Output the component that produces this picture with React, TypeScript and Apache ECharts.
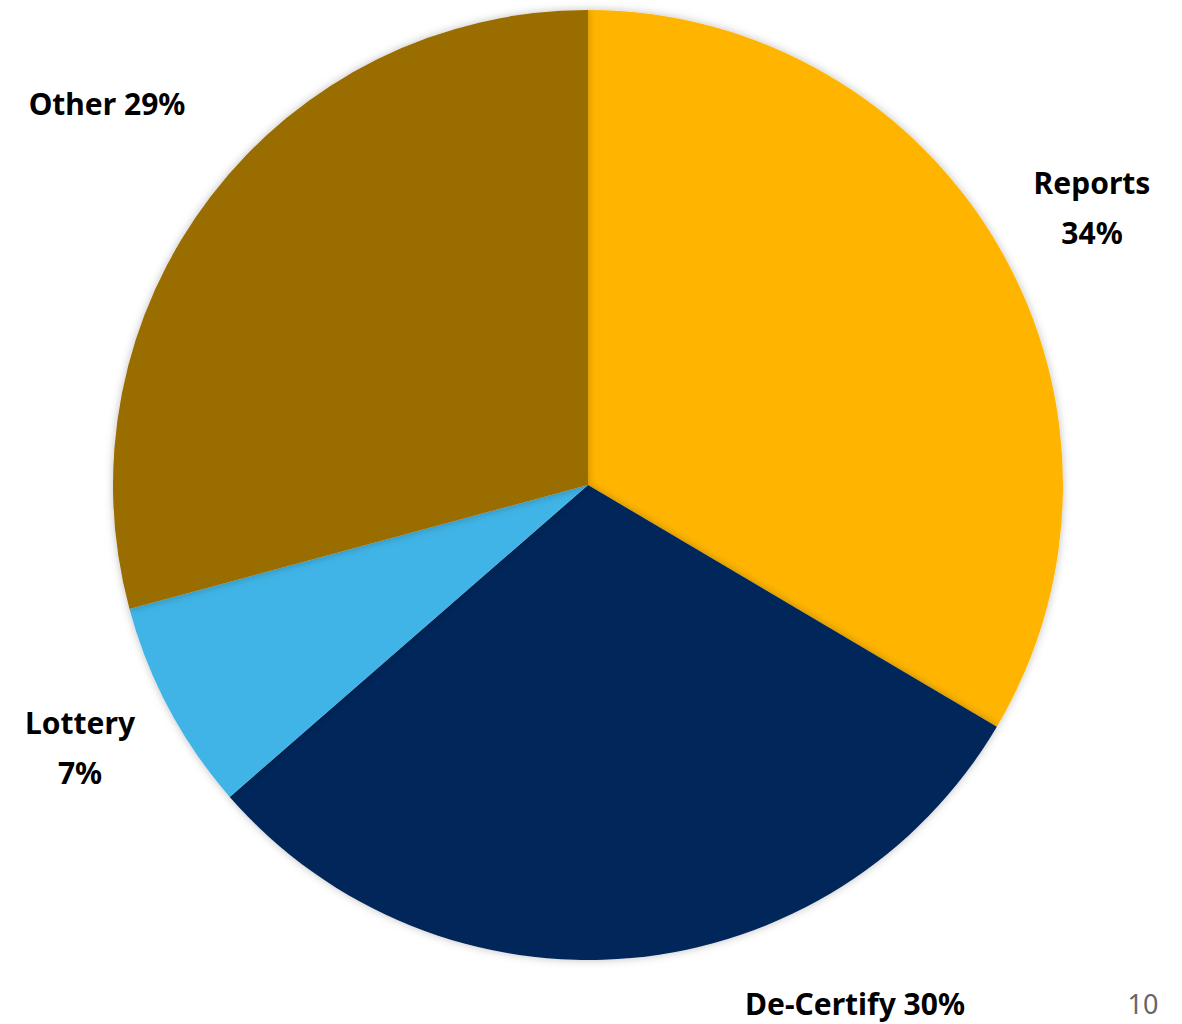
import React, { useEffect, useRef } from "react";
import * as echarts from "echarts";

const categories = ["Reports", "De-Certify", "Lottery", "Other"];
const values = [33.5, 30.1, 7.2, 29.2];
const colors = ["#FFB500", "#03275A", "#41B4E6", "#9A6D00"];
const labelFormats = ["{b}\n{p}%", "{b} {p}%", "{b}\n{p}%", "{b} {p}%"];
const pageNumber = "10";

const labelPos: [number, number][] = [
  [1092, 207],
  [855, 1003],
  [80, 747],
  [107, 103],
];

export default function App() {
  const ref = useRef<HTMLDivElement>(null);
  useEffect(() => {
    if (!ref.current) return;
    const chart = echarts.init(ref.current, null, { renderer: "svg" });
    chart.setOption({
      animation: false,
      backgroundColor: "#ffffff",
      series: [
        {
          type: "pie",
          center: [588, 485],
          radius: [0, 475],
          startAngle: 90,
          clockwise: true,
          data: categories.map((c, i) => ({
            name: c,
            value: values[i],
            itemStyle: { color: colors[i] },
            label: {
              formatter: labelFormats[i]
                .replace("{b}", c)
                .replace("{p}", String(Math.round(values[i]))),
            },
          })),
          itemStyle: {
            shadowBlur: 8,
            shadowColor: "rgba(0,0,0,0.25)",
            borderWidth: 0,
          },
          label: {
            show: true,
            position: "outside",
            alignTo: "none",
            overflow: "none",
            color: "#000",
            fontFamily: "Noto Sans",
            fontWeight: "bold",
            fontSize: 30,
            lineHeight: 50,
            align: "center",
          },
          labelLine: { show: false },
          labelLayout: (params: any) => {
            const p = labelPos[params.dataIndex];
            return { x: p[0], y: p[1], align: "center", verticalAlign: "middle" };
          },
          emphasis: { disabled: true },
        },
      ],
      graphic: [
        {
          type: "text",
          x: 1143,
          y: 1003,
          style: {
            text: pageNumber,
            fill: "#666666",
            font: "27px 'Noto Sans'",
            textAlign: "center",
            textVerticalAlign: "middle",
          },
        },
      ],
    });
    return () => chart.dispose();
  }, []);
  return (
    <div
      ref={ref}
      style={{ position: "fixed", left: 0, top: 0, width: 1182, height: 1024 }}
    />
  );
}
